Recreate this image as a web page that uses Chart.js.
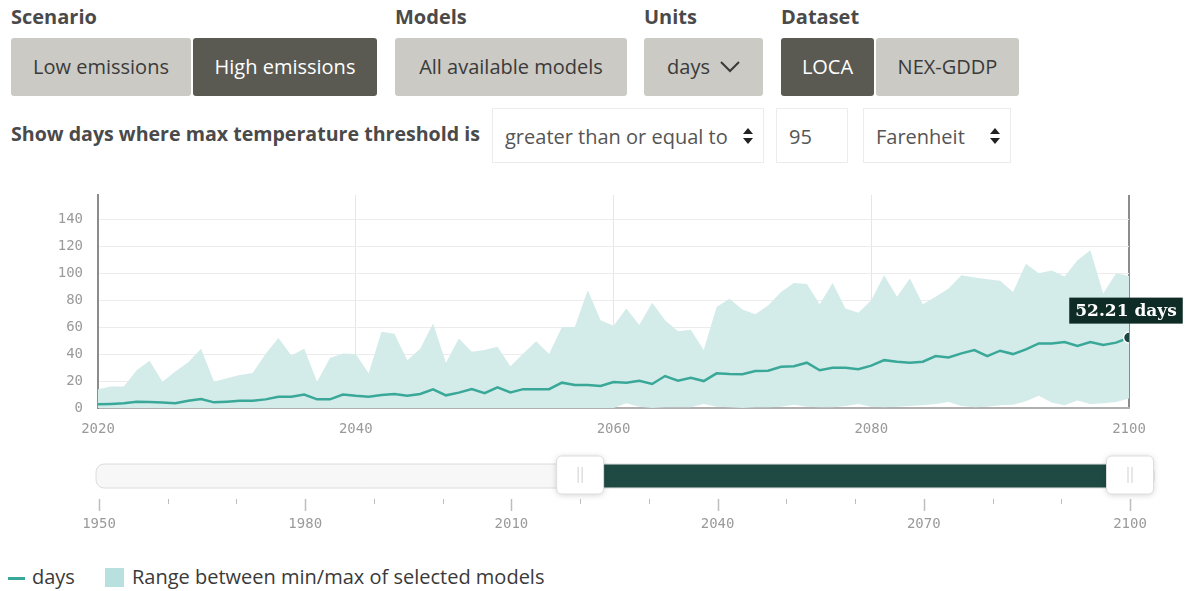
<!DOCTYPE html>
<html>
<head>
<meta charset="utf-8">
<title>Days with max temperature at or above 95°F</title>
<script src="https://cdn.jsdelivr.net/npm/chart.js@4.4.1/dist/chart.umd.min.js"></script>
<style>
  body { margin: 0; background: #fff; font-family: "Open Sans", sans-serif; color: #3b3b3b; }
  .page { position: relative; width: 1186px; height: 591px; overflow: hidden; }
  .lbl { position: absolute; top: 3px; font-weight: 700; font-size: 20px; color: #4a4a4a; }
  .btn { position: absolute; top: 38px; height: 58px; line-height: 58px; text-align: center;
         font-size: 20px; background: #cbcac4; color: #3a3a3a; border-radius: 3px; }
  .btn.on { background: #5b5a52; color: #fff; }
  .btn svg { vertical-align: middle; margin-left: 10px; margin-top: -3px; }
  .threshold { position: absolute; left: 11px; top: 120px; font-weight: 700; font-size: 19.6px; color: #4a4a4a; }
  .box { position: absolute; top: 108px; height: 55px; line-height: 55px; border: 1px solid #ececec;
         box-sizing: border-box; font-size: 20px; color: #555; padding-left: 12px; }
  .box svg { position: absolute; right: 10px; top: 19px; }
  canvas { position: absolute; left: 0; }
  .legend { position: absolute; left: 0; top: 563px; font-size: 20px; color: #3a3a3a; }
  .legend span { position: absolute; white-space: nowrap; }
  .legend .ln { left: 8px; top: 14px; width: 17px; height: 3px; background: #3aa898; }
  .legend .bx { left: 105px; top: 5px; width: 19px; height: 19px; background: #b7e0de; }
</style>
</head>
<body>
<div class="page">
  <div class="lbl" style="left:11px">Scenario</div>
  <div class="btn" style="left:11px;width:180px">Low emissions</div>
  <div class="btn on" style="left:193px;width:184px">High emissions</div>

  <div class="lbl" style="left:395px">Models</div>
  <div class="btn" style="left:395px;width:232px">All available models</div>

  <div class="lbl" style="left:644px">Units</div>
  <div class="btn" style="left:644px;width:119px">days<svg width="20" height="12" viewBox="0 0 20 12"><polyline points="1,1 10,10 19,1" fill="none" stroke="#3a3a3a" stroke-width="2"/></svg></div>

  <div class="lbl" style="left:781px">Dataset</div>
  <div class="btn on" style="left:781px;width:93px">LOCA</div>
  <div class="btn" style="left:876px;width:143px">NEX-GDDP</div>

  <div class="threshold">Show days where max temperature threshold is</div>
  <div class="box" style="left:492px;width:272px">greater than or equal to<svg width="10" height="16" viewBox="0 0 10 16"><polygon points="5,0 10,6 0,6" fill="#222"/><polygon points="0,10 10,10 5,16" fill="#222"/></svg></div>
  <div class="box" style="left:776px;width:72px">95</div>
  <div class="box" style="left:863px;width:148px">Farenheit<svg width="10" height="16" viewBox="0 0 10 16"><polygon points="5,0 10,6 0,6" fill="#222"/><polygon points="0,10 10,10 5,16" fill="#222"/></svg></div>

  <canvas id="chart" width="1186" height="260" style="top:180px"></canvas>
  <canvas id="slider" width="1186" height="100" style="top:445px"></canvas>

  <div class="legend">
    <span class="ln"></span><span style="left:32px">days</span>
    <span class="bx"></span><span style="left:132px">Range between min/max of selected models</span>
  </div>
</div>

<script>
// yearly values, high emissions scenario, LOCA, threshold >= 95 F
const years = [
  2020, 2021, 2022, 2023, 2024, 2025, 2026, 2027, 2028, 2029,
  2030, 2031, 2032, 2033, 2034, 2035, 2036, 2037, 2038, 2039,
  2040, 2041, 2042, 2043, 2044, 2045, 2046, 2047, 2048, 2049,
  2050, 2051, 2052, 2053, 2054, 2055, 2056, 2057, 2058, 2059,
  2060, 2061, 2062, 2063, 2064, 2065, 2066, 2067, 2068, 2069,
  2070, 2071, 2072, 2073, 2074, 2075, 2076, 2077, 2078, 2079,
  2080, 2081, 2082, 2083, 2084, 2085, 2086, 2087, 2088, 2089,
  2090, 2091, 2092, 2093, 2094, 2095, 2096, 2097, 2098, 2099,
  2100
];

// model mean
const days = [
  2.7, 3, 3.5, 4.7, 4.4, 4, 3.5, 5.4, 6.7, 4.2,
  4.7, 5.4, 5.4, 6.4, 8.4, 8.4, 10, 6.4, 6.4, 10,
  9, 8.4, 9.6, 10.4, 9.1, 10.4, 13.8, 9.4, 11.4, 14,
  11, 15.3, 11.6, 14, 14, 14, 18.8, 17, 17, 16.3,
  19.2, 18.8, 20.2, 17.8, 23.7, 20.2, 22.5, 20, 25.7, 25.2,
  25, 27.4, 27.6, 30.6, 31, 33.6, 28, 29.8, 29.8, 28.8,
  31.4, 35.5, 34.3, 33.6, 34.3, 38.5, 37.5, 40.5, 43, 38.5,
  42.5, 40, 43.5, 47.9, 47.9, 49, 46, 49, 46.7, 48.5,
  52.21
];

// max over selected models
const rangeMax = [
  14, 16, 16, 28, 35, 19.5, 27, 34, 44, 19.5,
  22, 24.5, 26, 40, 52, 39, 44, 19.5, 37, 40.5,
  40, 25.7, 56.5, 55, 35.5, 44, 62.7, 33.6, 51.6, 41.7,
  43, 45.4, 31, 40.5, 49.6, 40, 60, 60, 87.4, 65,
  61, 73.8, 61.5, 78, 65, 57, 58, 43, 75, 81,
  73, 69.6, 76, 86, 92.8, 92, 77, 92.8, 73.8, 70.6,
  80, 98.5, 82.5, 96, 77, 82.5, 88.6, 98.5, 96.8, 95.5,
  94.3, 86, 107, 100, 102, 97.5, 109.6, 117, 85, 100,
  98
];

// min over selected models
const rangeMin = [
  0, 0, 0, 0, 0, 0, 0, 0, 0, 0,
  0, 0, 0, 0, 0, 0, 0, 0, 0, 0,
  0, 0, 0, 0, 0, 0, 0, 0, 0, 0,
  0, 0, 0, 0, 0, 0, 0, 0, 0, 0,
  0, 3.5, 1, 0, 0.5, 0.5, 0.5, 3, 1, 0.5,
  0, 0.5, 0.5, 1, 2.5, 1, 0.5, 0.5, 1.5, 3,
  1, 0.5, 1, 1.5, 2, 3, 4.5, 1.5, 0.5, 1,
  2, 2.5, 5, 9, 4, 2, 5.5, 3, 3.5, 4.5,
  7
];

const yTicks = [0, 20, 40, 60, 80, 100, 120, 140];
const xTicks = [2020, 2040, 2060, 2080, 2100];

// time slider
const sliderStart = 1950;
const sliderEnd = 2100;
const sliderLabels = [1950, 1980, 2010, 2040, 2070, 2100];

Chart.defaults.font.family = '"DejaVu Sans Mono", monospace';
Chart.defaults.font.size = 14;
Chart.defaults.color = '#9a9a9a';

const pts = arr => years.map((yr, i) => ({ x: yr, y: arr[i] }));
const last = days.length - 1;

// label over the latest point
const valueTag = {
  id: 'valueTag',
  afterDatasetsDraw(chart) {
    const pt = chart.getDatasetMeta(0).data[last];
    const ctx = chart.ctx;
    const text = days[last].toFixed(2) + ' days';
    ctx.save();
    ctx.font = 'bold 17px "DejaVu Serif", serif';
    const w = ctx.measureText(text).width + 12;
    const bx = pt.x - 3 - w / 2, by = pt.y - 40;
    ctx.fillStyle = '#0e2b25';
    ctx.fillRect(bx, by, w, 26);
    ctx.fillStyle = '#fff';
    ctx.textAlign = 'center';
    ctx.textBaseline = 'middle';
    ctx.fillText(text, bx + w / 2, by + 14);
    ctx.restore();
  }
};

new Chart(document.getElementById('chart'), {
  type: 'line',
  data: {
    datasets: [
      {
        label: 'days',
        data: pts(days),
        borderColor: '#3aa898',
        borderWidth: 2.5,
        tension: 0,
        fill: false,
        pointRadius: c => c.dataIndex === last ? 5.5 : 0,
        pointBackgroundColor: '#1c4641',
        pointBorderColor: '#fff',
        pointBorderWidth: 1.5,
        order: 0
      },
      {
        label: 'Range between min/max of selected models',
        data: pts(rangeMax),
        borderWidth: 0,
        backgroundColor: '#d3ebe9',
        pointRadius: 0,
        tension: 0,
        fill: 2,
        order: 1
      },
      {
        label: 'min',
        data: pts(rangeMin),
        borderWidth: 0,
        pointRadius: 0,
        tension: 0,
        fill: false,
        order: 2
      }
    ]
  },
  options: {
    responsive: false,
    animation: false,
    layout: { padding: { top: 15, right: 57, left: 0, bottom: 0 } },
    plugins: { legend: { display: false }, tooltip: { enabled: false } },
    scales: {
      x: {
        type: 'linear',
        min: years[0],
        max: years[last],
        afterBuildTicks: s => { s.ticks = xTicks.map(v => ({ value: v })); },
        afterFit: s => { s.height = 32; s.paddingLeft = 0; s.paddingRight = 0; },
        ticks: { padding: 13, maxRotation: 0, callback: v => String(v) },
        grid: {
          drawTicks: false,
          color: c => c.tick && c.tick.value === years[last] ? '#8c8c8c' : '#e6e6e6',
          lineWidth: c => c.tick && c.tick.value === years[last] ? 2 : 1
        },
        border: { color: '#b0b0b0', width: 2 }
      },
      y: {
        min: 0,
        max: 158,
        afterBuildTicks: s => { s.ticks = yTicks.map(v => ({ value: v })); },
        afterFit: s => { s.width = 98; s.paddingTop = 0; s.paddingBottom = 0; },
        ticks: { padding: 15 },
        grid: { drawTicks: false, color: '#ececec' },
        border: { color: '#8c8c8c', width: 2 }
      }
    }
  },
  plugins: [valueTag]
});

// slider track, selected span, handles and tick marks
const sliderTrack = {
  id: 'sliderTrack',
  beforeDatasetsDraw(chart) {
    const { ctx, scales: { x } } = chart;
    const a = x.getPixelForValue(years[0]);
    const b = x.getPixelForValue(years[last]);
    const x0 = x.getPixelForValue(sliderStart);
    ctx.save();

    ctx.beginPath();
    ctx.roundRect(x0 - 3, 19, b + 24 - (x0 - 3), 24, 8);
    ctx.fillStyle = '#f7f7f7';
    ctx.fill();
    ctx.strokeStyle = '#dcdcdc';
    ctx.lineWidth = 1;
    ctx.stroke();

    ctx.fillStyle = '#1f4a44';
    ctx.fillRect(a, 19.5, b - a, 23);

    ctx.strokeStyle = '#bdbdbd';
    for (let yr = sliderStart; yr <= sliderEnd; yr += 10) {
      const px = Math.round(x.getPixelForValue(yr)) + 0.5;
      const major = sliderLabels.includes(yr);
      ctx.lineWidth = major ? 1.5 : 1;
      ctx.beginPath();
      ctx.moveTo(px, 54);
      ctx.lineTo(px, major ? 66 : 59);
      ctx.stroke();
    }

    [a, b].forEach(px => {
      ctx.save();
      ctx.shadowColor = 'rgba(0,0,0,0.18)';
      ctx.shadowBlur = 6;
      ctx.shadowOffsetY = 1;
      ctx.beginPath();
      ctx.roundRect(px - 23.5, 11, 47, 38, 5);
      ctx.fillStyle = '#fff';
      ctx.fill();
      ctx.restore();
      ctx.strokeStyle = '#dddddd';
      ctx.lineWidth = 1;
      ctx.stroke();
      ctx.strokeStyle = '#cfcfcf';
      ctx.beginPath();
      ctx.moveTo(px - 2, 22); ctx.lineTo(px - 2, 38);
      ctx.moveTo(px + 2, 22); ctx.lineTo(px + 2, 38);
      ctx.stroke();
    });
    ctx.restore();
  }
};

new Chart(document.getElementById('slider'), {
  type: 'line',
  data: { datasets: [{ data: [] }] },
  options: {
    responsive: false,
    animation: false,
    layout: { padding: { left: 99, right: 56, top: 0, bottom: 0 } },
    plugins: { legend: { display: false }, tooltip: { enabled: false } },
    scales: {
      x: {
        type: 'linear',
        min: sliderStart,
        max: sliderEnd,
        afterBuildTicks: s => { s.ticks = sliderLabels.map(v => ({ value: v })); },
        afterFit: s => { s.height = 50; s.paddingLeft = 0; s.paddingRight = 0; },
        ticks: { padding: 21, maxRotation: 0, autoSkip: false, callback: v => String(v) },
        grid: { display: false, drawTicks: false },
        border: { display: false }
      },
      y: { display: false, min: 0, max: 1 }
    }
  },
  plugins: [sliderTrack]
});
</script>
</body>
</html>
